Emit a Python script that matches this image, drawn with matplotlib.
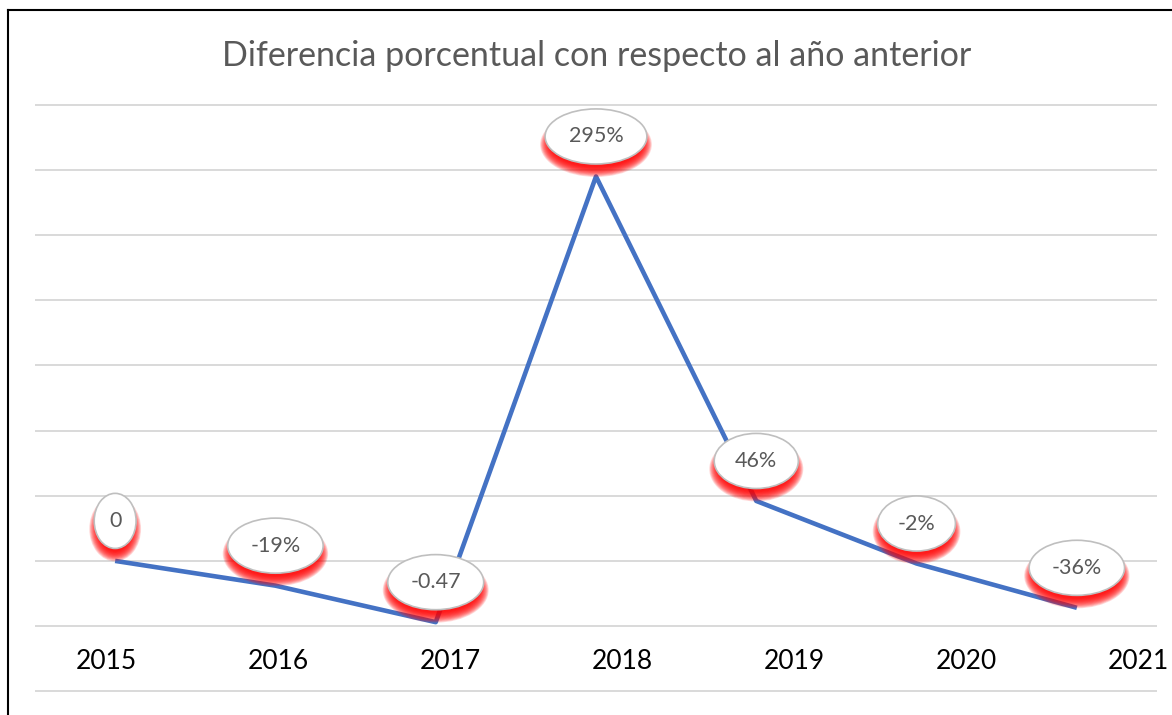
import numpy as np
import matplotlib
matplotlib.use("Agg")
import matplotlib.pyplot as plt
from matplotlib.lines import Line2D
from matplotlib.patches import Ellipse
from matplotlib.transforms import ScaledTranslation

plt.rcParams['font.family'] = ['Lato', 'DejaVu Sans']

# data
years = ['2015', '2016', '2017', '2018', '2019', '2020', '2021']
values = [0, -0.19, -0.47, 2.95, 0.46, -0.02, -0.36]
labels = ['0', '-19%', '-0.47', '295%', '46%', '-2%', '-36%']
title = 'Diferencia porcentual con respecto al año anterior'

W, H = 1172, 715
DPI = 100
fig = plt.figure(figsize=(W / DPI, H / DPI), dpi=DPI)
fig.patch.set_facecolor('white')
ax = fig.add_axes([35 / W, 23 / H, 1122 / W, 588 / H])

x = np.arange(len(values))
ax.plot(x, values, color='#4472C4', lw=3.3, zorder=2, solid_capstyle='butt')

ax.set_xlim(-0.5, 6.5)
ax.set_ylim(-1.006, 3.506)
ax.set_yticks(np.arange(-1, 3.51, 0.5))
ax.set_xticks([])
ax.yaxis.grid(True, color='#d9d9d9', lw=1.4)
ax.set_axisbelow(True)
ax.tick_params(left=False, labelleft=False)
for s in ax.spines.values():
    s.set_visible(False)

# data labels in white ellipses
anns = []
for xi, v, lab in zip(x, values, labels):
    a = ax.annotate(lab, (xi, v), xytext=(0, 28.8), textcoords='offset points',
                    ha='center', va='center', fontsize=15.5, color='#595959',
                    bbox=dict(boxstyle='ellipse,pad=0.4', fc='white',
                              ec='#bfbfbf', lw=1.2, mutation_aspect=1.1),
                    zorder=5)
    anns.append(a)

# red glow under each ellipse, sized from the drawn ellipse
fig.canvas.draw()
for a, xi, v in zip(anns, x, values):
    bb = a.get_bbox_patch().get_window_extent()
    cx, cy = bb.x0 + bb.width / 2, bb.y0 + bb.height / 2
    px, py = ax.transData.transform((xi, v))
    off = ScaledTranslation(xi, v, ax.transData)
    for e in np.linspace(-5, 5, 14):
        glow = Ellipse(((cx - px) / DPI, (cy - py - 8) / DPI),
                       (bb.width + 2 * e) / DPI, (bb.height + 2 * e) / DPI,
                       transform=fig.dpi_scale_trans + off,
                       fc='red', ec='none', alpha=0.14, zorder=3)
        ax.add_patch(glow)

# year labels sit on their own spacing
ax2 = ax.twiny()
ax2.set_xlim(-(106 - 35) / 172, (1157 - 106) / 172)
ax2.set_xticks(range(len(years)))
ax2.set_xticklabels(years)
ax2.xaxis.set_ticks_position('bottom')
ax2.tick_params(length=0, pad=-31, labelsize=19, labelcolor='black')
for s in ax2.spines.values():
    s.set_visible(False)

fig.text(596.5 / W, 1 - 56 / H, title, ha='center', va='center',
         fontsize=24.5, color='#595959')

# outer frame (left and top only)
fig.add_artist(Line2D([7.5 / W, 7.5 / W], [0, 1 - 10 / H], color='black',
                      lw=1.5, transform=fig.transFigure))
fig.add_artist(Line2D([7.5 / W, 1], [1 - 10 / H, 1 - 10 / H], color='black',
                      lw=1.5, transform=fig.transFigure))

fig.savefig('out.png', dpi=DPI)
